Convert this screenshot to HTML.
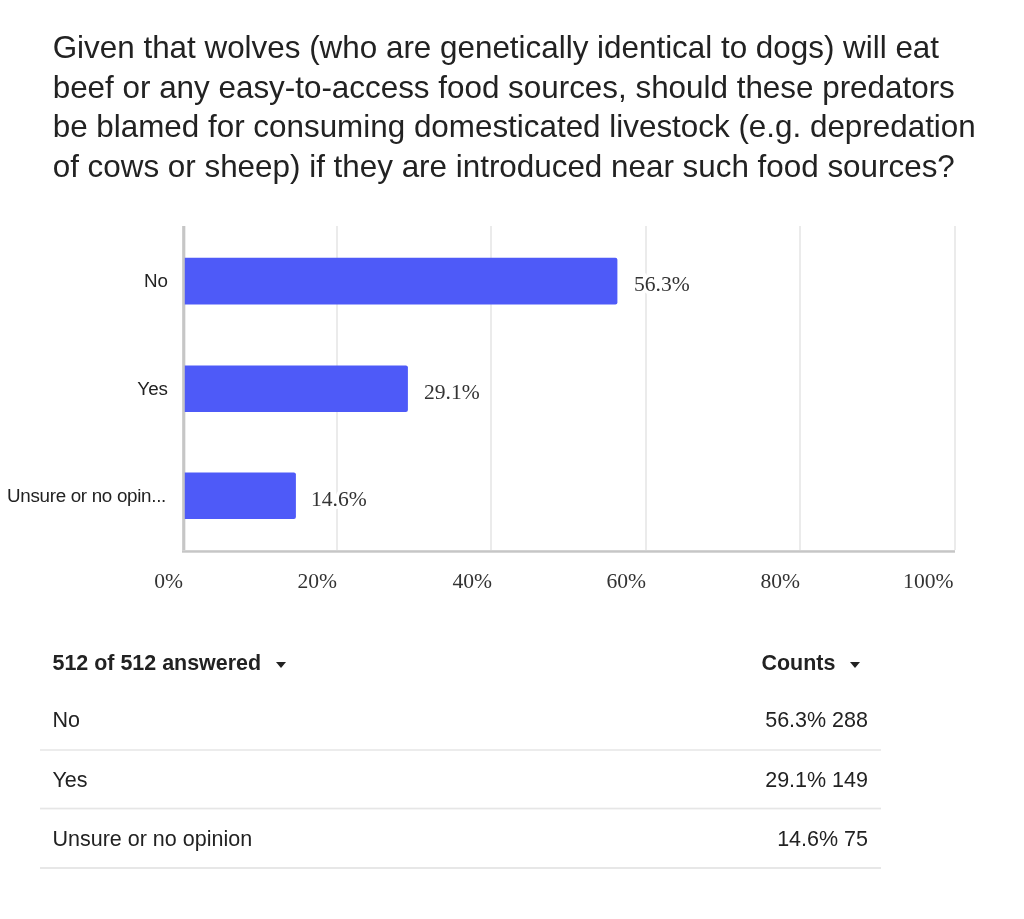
<!DOCTYPE html>
<html>
<head>
<meta charset="utf-8">
<title>Survey result</title>
<style>
html,body{margin:0;padding:0;background:#fff;}
body{width:1024px;height:919px;position:relative;overflow:hidden;font-family:"Liberation Sans",sans-serif;color:#222;}
.abs{position:absolute;white-space:nowrap;}
#title{left:52.7px;top:28px;font-size:31.4px;line-height:39.67px;color:#222;}
.grid{position:absolute;top:226px;width:2px;height:324px;background:#ebebeb;}
#yaxis{position:absolute;left:182px;top:226px;width:4px;height:327px;background:linear-gradient(to right,#cfcfcf 0 1px,#c6c6c6 1px 3px,#ececec 3px 4px);}
#xaxis{position:absolute;left:182px;top:550px;width:773px;height:3px;background:linear-gradient(to bottom,#d2d2d2 0 1px,#c6c6c6 1px 2px,#d6d6d6 2px 3px);}
.ylab{right:856px;font-size:18.8px;line-height:20px;color:#222;text-align:right;}
.val{font-family:"Liberation Serif",serif;font-size:21.6px;line-height:24px;color:#333;-webkit-text-stroke:7px #fff;paint-order:stroke fill;}
.xlab{font-family:"Liberation Serif",serif;font-size:21.6px;line-height:24px;color:#333;text-align:right;}
.th{font-weight:bold;font-size:21.45px;line-height:24px;color:#222;}
.td{font-size:21.5px;line-height:24px;color:#222;}
.rule{position:absolute;left:40px;width:841px;height:2px;background:#ececec;}
.caret{position:absolute;width:0;height:0;border-left:5.5px solid transparent;border-right:5.5px solid transparent;border-top:6px solid #222;}
</style>
</head>
<body>
<div id="page" style="position:absolute;left:0;top:0;width:1024px;height:919px;will-change:transform;">
<div id="title" class="abs">Given that wolves (who are genetically identical to dogs) will eat<br>beef or any easy-to-access food sources, should these predators<br>be blamed for consuming domesticated livestock (e.g. depredation<br>of cows or sheep) if they are introduced near such food sources?</div>

<div class="grid" id="g20" style="left:336px"></div>
<div class="grid" id="g40" style="left:490px"></div>
<div class="grid" id="g60" style="left:645px"></div>
<div class="grid" id="g80" style="left:799px"></div>
<div class="grid" id="g100" style="left:954px"></div>

<div id="yaxis"></div>
<div id="xaxis"></div>


<svg id="bars" width="1024" height="919" viewBox="0 0 1024 919" style="position:absolute;left:0;top:0" fill="#4e5af8">
<path d="M184.8,257.7 H615.4 Q617.4,257.7 617.4,259.7 V302.6 Q617.4,304.6 615.4,304.6 H184.8 Z"/>
<path d="M184.8,365.6 H405.9 Q407.9,365.6 407.9,367.6 V410.1 Q407.9,412.1 405.9,412.1 H184.8 Z"/>
<path d="M184.8,472.5 H293.9 Q295.9,472.5 295.9,474.5 V517.1 Q295.9,519.1 293.9,519.1 H184.8 Z"/>
</svg>

<div class="abs ylab" id="yl1" style="top:271px">No</div>
<div class="abs ylab" id="yl2" style="top:379px">Yes</div>
<div class="abs ylab" id="yl3" style="top:486px;letter-spacing:-0.3px;right:858px">Unsure or no opin...</div>

<div class="abs val" id="v1" style="left:634px;top:272px">56.3%</div>
<div class="abs val" id="v2" style="left:424px;top:380px">29.1%</div>
<div class="abs val" id="v3" style="left:311px;top:487px">14.6%</div>

<div class="abs xlab" id="x0" style="right:841px;top:569px">0%</div>
<div class="abs xlab" id="x20" style="right:687px;top:569px">20%</div>
<div class="abs xlab" id="x40" style="right:532px;top:569px">40%</div>
<div class="abs xlab" id="x60" style="right:378px;top:569px">60%</div>
<div class="abs xlab" id="x80" style="right:224px;top:569px">80%</div>
<div class="abs xlab" id="x100" style="right:70.5px;top:569px">100%</div>

<div class="abs th" id="h1" style="left:52.5px;top:650.5px">512 of 512 answered</div>
<div class="caret" id="c1" style="left:275.5px;top:662px"></div>
<div class="abs th" id="h2" style="left:761.5px;top:650.5px">Counts</div>
<div class="caret" id="c2" style="left:849.5px;top:662px"></div>

<div class="abs td" id="r1a" style="left:52.5px;top:708px">No</div>
<div class="abs td" id="r1b" style="right:156px;top:708px">56.3% 288</div>
<div class="rule" id="l1" style="top:749px"></div>
<div class="abs td" id="r2a" style="left:52.5px;top:767.5px">Yes</div>
<div class="abs td" id="r2b" style="right:156px;top:767.5px">29.1% 149</div>
<div class="rule" id="l2" style="top:807px;height:3px;background:linear-gradient(to bottom,#f7f7f7 0 1px,#e6e6e6 1px 2px,#f5f5f5 2px 3px)"></div>
<div class="abs td" id="r3a" style="left:52.5px;top:826.5px">Unsure or no opinion</div>
<div class="abs td" id="r3b" style="right:156px;top:826.5px">14.6% 75</div>
<div class="rule" id="l3" style="top:867px;background:#e7e7e7"></div>
</div>
</body>
</html>
